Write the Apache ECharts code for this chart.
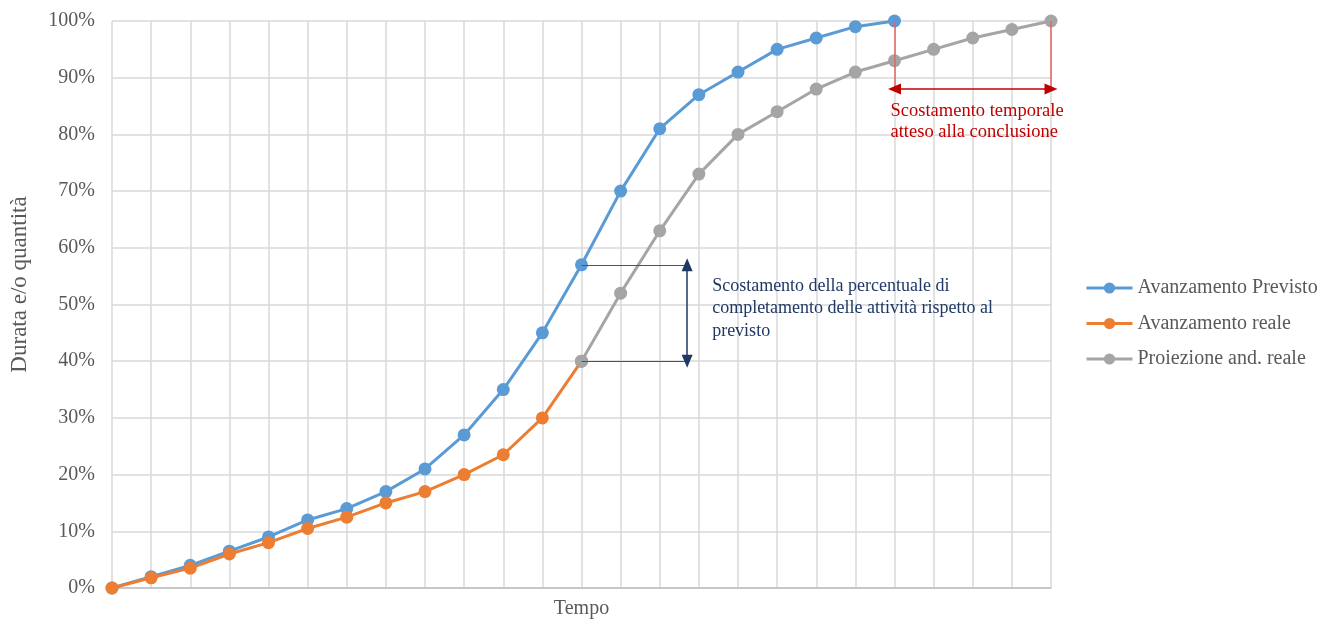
<!DOCTYPE html>
<html>
<head>
<meta charset="utf-8">
<script src="https://cdn.jsdelivr.net/npm/echarts@6/dist/echarts.min.js"></script>
<style>
  html, body { margin: 0; padding: 0; background: #ffffff; }
  #chart { width: 1323px; height: 621px; }
</style>
</head>
<body>
<div id="chart"></div>
<script>
// Periodi di tempo (asse X, senza etichette)
const periodi = Array.from({ length: 25 }, (_, i) => i);

// Avanzamento previsto (%), periodi 0..20
const avanzamentoPrevisto = [0, 2, 4, 6.5, 9, 12, 14, 17, 21, 27, 35, 45, 57, 70, 81, 87, 91, 95, 97, 99, 100];
// Avanzamento reale (%), periodi 0..12
const avanzamentoReale = [0, 1.8, 3.5, 6, 8, 10.5, 12.5, 15, 17, 20, 23.5, 30, 40];
// Proiezione dell'andamento reale (%), dal periodo 12 al 24
const inizioProiezione = 12;
const proiezioneReale = [40, 52, 63, 73, 80, 84, 88, 91, 93, 95, 97, 98.5, 100];

// Tacche asse Y
const yTicks = [0, 10, 20, 30, 40, 50, 60, 70, 80, 90, 100];

// Annotazioni
const scostPercX = 14.7;          // posizione della freccia verticale
const scostTempoY = 88;           // quota della freccia orizzontale
const testoScostPerc = 'Scostamento della percentuale di\ncompletamento delle attività rispetto al\nprevisto';
const testoScostTempo = 'Scostamento temporale\natteso alla conclusione';

const FONT = '"Liberation Serif", "Times New Roman", serif';
const GREY_TEXT = '#595959';
const NAVY = '#203864';
const RED = '#C00000';

const toPairs = (arr, start) => arr.map((v, i) => [periodi[start + i], v]);

const lineSeries = (name, color, data) => ({
  name,
  type: 'line',
  data,
  symbol: 'circle',
  symbolSize: 13,
  lineStyle: { color, width: 3 },
  itemStyle: { color },
  emphasis: { disabled: true },
  animation: false
});

const chart = echarts.init(document.getElementById('chart'), null, { renderer: 'canvas' });

const previstoEnd = avanzamentoPrevisto.length - 1;
const proiezioneEnd = inizioProiezione + proiezioneReale.length - 1;
const previstoAtGap = avanzamentoPrevisto[inizioProiezione];
const realeAtGap = avanzamentoReale[avanzamentoReale.length - 1];

const option = {
  animation: false,
  backgroundColor: '#ffffff',
  textStyle: { fontFamily: FONT },
  grid: { left: 112, right: 272, top: 21, bottom: 33, outerBoundsMode: 'none', containLabel: false },
  xAxis: {
    type: 'value',
    min: 0,
    max: periodi[periodi.length - 1],
    interval: 1,
    name: 'Tempo',
    nameLocation: 'middle',
    nameGap: 11,
    nameTextStyle: { fontFamily: FONT, fontSize: 20, color: GREY_TEXT },
    axisLabel: { show: false },
    axisTick: { show: false },
    axisLine: { lineStyle: { color: '#bfbfbf', width: 1.5 } },
    splitLine: { show: true, lineStyle: { color: '#d9d9d9', width: 1.5 } }
  },
  yAxis: {
    type: 'value',
    min: yTicks[0],
    max: yTicks[yTicks.length - 1],
    interval: 10,
    axisLabel: {
      formatter: '{value}%',
      fontFamily: FONT,
      fontSize: 20,
      color: GREY_TEXT,
      margin: 17
    },
    axisTick: { show: false },
    axisLine: { show: false },
    splitLine: { show: true, lineStyle: { color: '#d9d9d9', width: 1.5 } }
  },
  legend: {
    orient: 'vertical',
    left: 1080,
    top: 273,
    itemWidth: 46,
    itemHeight: 14,
    itemGap: 15.5,
    lineStyle: { width: 3 },
    textStyle: { fontFamily: FONT, fontSize: 20, color: GREY_TEXT },
    data: ['Avanzamento Previsto', 'Avanzamento reale', 'Proiezione and. reale']
  },
  series: [
    lineSeries('Avanzamento Previsto', '#5B9BD5', toPairs(avanzamentoPrevisto, 0)),
    lineSeries('Avanzamento reale', '#ED7D31', toPairs(avanzamentoReale, 0)),
    lineSeries('Proiezione and. reale', '#A5A5A5', toPairs(proiezioneReale, inizioProiezione)),
    {
      name: 'annotazioni',
      type: 'line',
      data: [],
      silent: true,
      animation: false,
      markLine: {
        silent: true,
        animation: false,
        label: { show: false },
        emphasis: { disabled: true },
        data: [
          // Scostamento percentuale: linee orizzontali di riferimento
          [
            { coord: [inizioProiezione, previstoAtGap], symbol: 'none', lineStyle: { color: '#44546A', width: 1, type: 'solid' } },
            { coord: [scostPercX, previstoAtGap], symbol: 'none' }
          ],
          [
            { coord: [inizioProiezione, realeAtGap], symbol: 'none', lineStyle: { color: '#44546A', width: 1, type: 'solid' } },
            { coord: [scostPercX, realeAtGap], symbol: 'none' }
          ],
          // Freccia doppia verticale
          [
            { coord: [scostPercX, previstoAtGap], symbol: 'triangle', symbolSize: [11, 13], lineStyle: { color: NAVY, width: 1.5, type: 'solid' }, itemStyle: { color: NAVY } },
            { coord: [scostPercX, realeAtGap], symbol: 'triangle', symbolSize: [11, 13], itemStyle: { color: NAVY } }
          ],
          // Scostamento temporale: linee verticali
          [
            { coord: [previstoEnd, 100], symbol: 'none', lineStyle: { color: '#E06666', width: 1.5, type: 'solid' } },
            { coord: [previstoEnd, scostTempoY], symbol: 'none' }
          ],
          [
            { coord: [proiezioneEnd, 100], symbol: 'none', lineStyle: { color: '#E06666', width: 1.5, type: 'solid' } },
            { coord: [proiezioneEnd, scostTempoY], symbol: 'none' }
          ],
          // Freccia doppia orizzontale
          [
            { coord: [previstoEnd, scostTempoY], symbol: 'triangle', symbolSize: [11, 13], lineStyle: { color: RED, width: 1.5, type: 'solid' }, itemStyle: { color: RED } },
            { coord: [proiezioneEnd, scostTempoY], symbol: 'triangle', symbolSize: [11, 13], itemStyle: { color: RED } }
          ]
        ]
      }
    }
  ]
};

chart.setOption(option);

// Testi di annotazione e titolo asse Y, posizionati dalle coordinate del grafico
const px = (x, y) => chart.convertToPixel({ gridIndex: 0 }, [x, y]);
const pPerc = px(scostPercX, previstoAtGap);
const pTempo = px(previstoEnd, scostTempoY);
const pTop = px(0, 100);
const pBottom = px(0, 0);

chart.setOption({
  graphic: [
    {
      type: 'text',
      left: pPerc[0] + 25,
      top: pPerc[1] + 10,
      silent: true,
      style: {
        text: testoScostPerc,
        fontFamily: FONT,
        fontSize: 18,
        lineHeight: 22.5,
        fill: NAVY
      }
    },
    {
      type: 'text',
      left: pTempo[0] - 4,
      top: pTempo[1] + 12,
      silent: true,
      style: {
        text: testoScostTempo,
        fontFamily: FONT,
        fontSize: 18.5,
        lineHeight: 21,
        fill: RED
      }
    },
    {
      type: 'text',
      x: 20,
      y: (pTop[1] + pBottom[1]) / 2 - 20,
      rotation: Math.PI / 2,
      silent: true,
      style: {
        text: 'Durata e/o quantità',
        fontFamily: FONT,
        fontSize: 23,
        fill: GREY_TEXT,
        align: 'center',
        verticalAlign: 'middle'
      }
    }
  ]
});
</script>
</body>
</html>
